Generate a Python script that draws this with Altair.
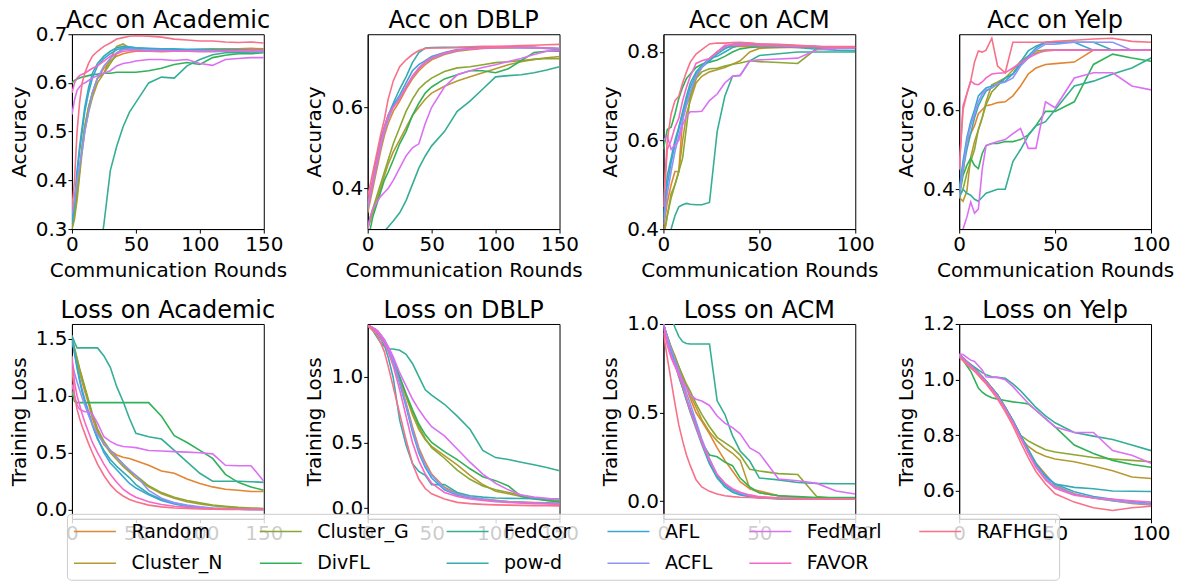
import math
import altair as alt
import pandas as pd

# ---------------- data ----------------
METHODS = ["Random", "Cluster_N", "Cluster_G", "DivFL", "FedCor", "pow-d",
           "AFL", "ACFL", "FedMarl", "FAVOR", "RAFHGL"]
PALETTE_INDEX = {"RAFHGL": 0, "Random": 1, "Cluster_N": 2, "Cluster_G": 3, "DivFL": 4,
                 "FedCor": 5, "pow-d": 6, "AFL": 7, "ACFL": 8, "FedMarl": 9, "FAVOR": 10}

X150 = [0, 2, 4, 6, 8, 10, 13, 16, 20, 25, 30, 35, 40, 45, 50, 60, 70, 80, 90, 100, 110, 120, 130, 140, 150]
X100 = [0, 2, 4, 6, 8, 10, 12, 14, 17, 20, 24, 28, 32, 36, 40, 45, 50, 60, 70, 80, 90, 100]

ACC_ACADEMIC = {
    "Random":    [0.31,0.33,0.38,0.42,0.47,0.51,0.55,0.58,0.61,0.63,0.645,0.655,0.66,0.663,0.665,0.665,0.666,0.667,0.668,0.668,0.669,0.67,0.67,0.671,0.67],
    "Cluster_N": [0.30,0.32,0.36,0.41,0.46,0.50,0.54,0.57,0.60,0.62,0.65,0.675,0.68,0.672,0.668,0.665,0.664,0.665,0.666,0.667,0.667,0.668,0.669,0.668,0.67],
    "Cluster_G": [0.30,0.33,0.37,0.42,0.47,0.51,0.55,0.58,0.61,0.62,0.64,0.66,0.672,0.67,0.668,0.666,0.666,0.667,0.668,0.669,0.67,0.669,0.668,0.667,0.665],
    "DivFL":     [0.60,0.605,0.608,0.61,0.612,0.613,0.615,0.617,0.618,0.62,0.62,0.622,0.622,0.622,0.622,0.625,0.63,0.638,0.642,0.638,0.652,0.657,0.66,0.66,0.662],
    "FedCor":    [0.15,0.15,0.15,0.16,0.17,0.18,0.19,0.2,0.22,0.31,0.42,0.47,0.51,0.54,0.56,0.60,0.612,0.61,0.635,0.648,0.658,0.662,0.662,0.663,0.663],
    "pow-d":     [0.32,0.36,0.42,0.47,0.51,0.55,0.59,0.62,0.64,0.655,0.665,0.672,0.675,0.674,0.672,0.67,0.669,0.668,0.668,0.667,0.667,0.666,0.666,0.665,0.665],
    "AFL":       [0.31,0.35,0.41,0.46,0.50,0.54,0.58,0.61,0.635,0.65,0.66,0.668,0.672,0.673,0.672,0.671,0.67,0.67,0.669,0.669,0.668,0.668,0.668,0.667,0.667],
    "ACFL":      [0.33,0.36,0.40,0.43,0.46,0.50,0.54,0.58,0.61,0.635,0.65,0.662,0.668,0.67,0.668,0.667,0.667,0.666,0.666,0.666,0.666,0.665,0.665,0.664,0.664],
    "FedMarl":   [0.535,0.565,0.585,0.592,0.598,0.60,0.605,0.61,0.615,0.62,0.625,0.635,0.64,0.642,0.645,0.648,0.648,0.646,0.648,0.64,0.636,0.648,0.65,0.652,0.652],
    "FAVOR":     [0.58,0.60,0.61,0.615,0.618,0.62,0.625,0.63,0.635,0.645,0.655,0.66,0.665,0.666,0.666,0.665,0.665,0.665,0.665,0.664,0.664,0.665,0.666,0.667,0.667],
    "RAFHGL":    [0.34,0.40,0.50,0.56,0.60,0.62,0.64,0.655,0.665,0.675,0.682,0.69,0.693,0.696,0.697,0.696,0.694,0.69,0.688,0.686,0.686,0.684,0.683,0.684,0.682],
}

ACC_DBLP = {
    "Random":    [0.34,0.37,0.40,0.43,0.46,0.49,0.53,0.56,0.59,0.615,0.645,0.67,0.69,0.705,0.717,0.73,0.738,0.742,0.745,0.746,0.746,0.747,0.747,0.746,0.744],
    "Cluster_N": [0.30,0.32,0.34,0.36,0.38,0.40,0.43,0.46,0.49,0.52,0.55,0.58,0.60,0.62,0.635,0.652,0.665,0.675,0.685,0.695,0.705,0.712,0.718,0.722,0.725],
    "Cluster_G": [0.30,0.33,0.35,0.37,0.39,0.41,0.44,0.47,0.51,0.55,0.59,0.62,0.645,0.66,0.672,0.688,0.697,0.70,0.705,0.71,0.712,0.715,0.718,0.72,0.72],
    "DivFL":     [0.28,0.30,0.33,0.35,0.37,0.39,0.42,0.44,0.47,0.51,0.54,0.58,0.61,0.635,0.65,0.67,0.68,0.69,0.69,0.685,0.695,0.715,0.735,0.738,0.738],
    "FedCor":    [0.20,0.22,0.24,0.26,0.27,0.28,0.295,0.305,0.32,0.34,0.37,0.41,0.45,0.48,0.505,0.54,0.59,0.615,0.645,0.675,0.678,0.68,0.685,0.692,0.70],
    "pow-d":     [0.36,0.39,0.42,0.46,0.49,0.52,0.55,0.58,0.61,0.645,0.675,0.71,0.735,0.746,0.747,0.748,0.748,0.748,0.748,0.749,0.749,0.748,0.747,0.745,0.742],
    "AFL":       [0.36,0.39,0.42,0.45,0.48,0.51,0.55,0.58,0.605,0.63,0.66,0.69,0.705,0.715,0.725,0.735,0.742,0.745,0.747,0.748,0.748,0.748,0.748,0.746,0.745],
    "ACFL":      [0.35,0.38,0.41,0.44,0.47,0.50,0.54,0.57,0.60,0.625,0.65,0.675,0.695,0.71,0.72,0.732,0.74,0.744,0.746,0.747,0.747,0.746,0.746,0.745,0.744],
    "FedMarl":   [0.30,0.33,0.35,0.36,0.37,0.38,0.39,0.40,0.42,0.45,0.48,0.50,0.51,0.56,0.60,0.65,0.68,0.69,0.698,0.705,0.713,0.72,0.73,0.738,0.74],
    "FAVOR":     [0.36,0.39,0.42,0.45,0.48,0.51,0.55,0.58,0.60,0.62,0.65,0.677,0.697,0.712,0.722,0.734,0.741,0.744,0.746,0.747,0.748,0.748,0.747,0.746,0.745],
    "RAFHGL":    [0.38,0.41,0.44,0.47,0.50,0.53,0.57,0.62,0.665,0.70,0.717,0.73,0.74,0.745,0.746,0.746,0.747,0.749,0.75,0.75,0.751,0.752,0.753,0.754,0.755],
}

ACC_ACM = {
    "Random":    [0.40,0.46,0.50,0.53,0.53,0.65,0.68,0.70,0.74,0.765,0.785,0.80,0.81,0.812,0.813,0.812,0.811,0.81,0.811,0.81,0.81,0.81],
    "Cluster_N": [0.38,0.43,0.48,0.50,0.53,0.60,0.66,0.69,0.73,0.745,0.755,0.76,0.765,0.772,0.78,0.80,0.808,0.81,0.81,0.81,0.81,0.81],
    "Cluster_G": [0.38,0.43,0.47,0.50,0.53,0.56,0.63,0.70,0.74,0.755,0.762,0.763,0.768,0.772,0.775,0.78,0.778,0.776,0.774,0.808,0.81,0.81],
    "DivFL":     [0.58,0.625,0.63,0.66,0.695,0.72,0.74,0.75,0.765,0.772,0.777,0.782,0.79,0.80,0.807,0.81,0.812,0.812,0.811,0.81,0.81,0.81],
    "FedCor":    [0.35,0.38,0.40,0.43,0.45,0.455,0.458,0.456,0.455,0.455,0.46,0.62,0.70,0.745,0.747,0.78,0.792,0.796,0.80,0.80,0.80,0.80],
    "pow-d":     [0.43,0.52,0.56,0.60,0.63,0.665,0.70,0.73,0.755,0.77,0.785,0.79,0.80,0.81,0.815,0.815,0.813,0.812,0.81,0.806,0.804,0.803],
    "AFL":       [0.42,0.50,0.55,0.59,0.625,0.66,0.69,0.72,0.75,0.765,0.78,0.795,0.807,0.815,0.818,0.818,0.817,0.815,0.814,0.812,0.81,0.81],
    "ACFL":      [0.41,0.48,0.53,0.575,0.61,0.645,0.68,0.71,0.745,0.765,0.785,0.80,0.812,0.818,0.82,0.82,0.818,0.816,0.814,0.812,0.81,0.808],
    "FedMarl":   [0.60,0.61,0.58,0.59,0.60,0.635,0.655,0.665,0.665,0.666,0.69,0.705,0.73,0.745,0.747,0.78,0.782,0.784,0.786,0.805,0.808,0.81],
    "FAVOR":     [0.45,0.58,0.60,0.63,0.65,0.69,0.72,0.745,0.774,0.78,0.785,0.80,0.815,0.816,0.816,0.815,0.814,0.813,0.812,0.812,0.811,0.81],
    "RAFHGL":    [0.45,0.60,0.66,0.69,0.70,0.73,0.755,0.777,0.795,0.805,0.818,0.82,0.82,0.821,0.822,0.82,0.818,0.817,0.815,0.813,0.812,0.812],
}

ACC_YELP = {
    "Random":    [0.40,0.44,0.52,0.54,0.56,0.59,0.60,0.61,0.613,0.618,0.62,0.635,0.66,0.69,0.705,0.714,0.716,0.72,0.75,0.75,0.75,0.75],
    "Cluster_N": [0.38,0.37,0.395,0.48,0.52,0.55,0.58,0.62,0.663,0.67,0.68,0.70,0.722,0.735,0.743,0.748,0.75,0.75,0.75,0.75,0.75,0.75],
    "Cluster_G": [0.38,0.40,0.44,0.47,0.50,0.55,0.58,0.613,0.645,0.66,0.68,0.69,0.714,0.73,0.748,0.75,0.75,0.75,0.75,0.75,0.75,0.75],
    "DivFL":     [0.38,0.435,0.46,0.478,0.46,0.452,0.49,0.51,0.515,0.515,0.52,0.52,0.525,0.537,0.56,0.596,0.596,0.62,0.714,0.74,0.73,0.722],
    "FedCor":    [0.38,0.40,0.39,0.385,0.375,0.37,0.38,0.39,0.395,0.40,0.40,0.47,0.50,0.535,0.56,0.57,0.60,0.66,0.672,0.69,0.705,0.73],
    "pow-d":     [0.40,0.45,0.50,0.54,0.58,0.61,0.63,0.647,0.655,0.665,0.68,0.69,0.72,0.748,0.76,0.77,0.77,0.77,0.77,0.75,0.75,0.75],
    "AFL":       [0.40,0.47,0.53,0.57,0.60,0.635,0.645,0.655,0.66,0.665,0.672,0.69,0.715,0.735,0.755,0.77,0.77,0.77,0.75,0.75,0.75,0.75],
    "ACFL":      [0.38,0.45,0.52,0.56,0.59,0.62,0.64,0.65,0.655,0.665,0.67,0.68,0.71,0.73,0.75,0.765,0.765,0.77,0.77,0.77,0.75,0.75],
    "FedMarl":   [0.25,0.30,0.33,0.368,0.34,0.35,0.45,0.51,0.515,0.52,0.525,0.54,0.553,0.503,0.503,0.62,0.605,0.68,0.693,0.693,0.66,0.65],
    "FAVOR":     [0.45,0.61,0.64,0.672,0.665,0.663,0.67,0.68,0.69,0.692,0.693,0.705,0.718,0.73,0.74,0.75,0.75,0.75,0.75,0.75,0.75,0.75],
    "RAFHGL":    [0.45,0.60,0.64,0.672,0.72,0.748,0.745,0.75,0.78,0.71,0.693,0.77,0.77,0.77,0.77,0.77,0.772,0.775,0.778,0.78,0.772,0.77],
}

LOSS_ACADEMIC = {
    "Random":    [1.50,1.40,1.30,1.20,1.12,1.04,0.93,0.80,0.68,0.57,0.52,0.48,0.46,0.45,0.43,0.39,0.34,0.32,0.27,0.23,0.20,0.18,0.17,0.16,0.16],
    "Cluster_N": [1.50,1.41,1.32,1.23,1.15,1.07,0.95,0.83,0.70,0.58,0.50,0.44,0.38,0.33,0.28,0.20,0.14,0.10,0.07,0.05,0.035,0.025,0.015,0.01,0.008],
    "Cluster_G": [1.50,1.42,1.33,1.24,1.16,1.08,0.96,0.84,0.71,0.60,0.52,0.46,0.40,0.34,0.30,0.21,0.15,0.11,0.08,0.06,0.04,0.03,0.02,0.015,0.01],
    "DivFL":     [1.04,0.95,0.94,0.94,0.94,0.94,0.94,0.94,0.94,0.94,0.94,0.94,0.94,0.94,0.94,0.94,0.82,0.65,0.59,0.52,0.45,0.31,0.24,0.20,0.17],
    "FedCor":    [1.53,1.47,1.42,1.42,1.42,1.42,1.42,1.42,1.42,1.35,1.25,1.08,0.95,0.80,0.67,0.64,0.62,0.52,0.42,0.32,0.25,0.25,0.25,0.245,0.24],
    "pow-d":     [1.50,1.37,1.24,1.13,1.03,0.95,0.84,0.74,0.62,0.52,0.44,0.38,0.33,0.28,0.22,0.14,0.09,0.06,0.035,0.02,0.012,0.008,0.005,0.003,0.002],
    "AFL":       [1.50,1.38,1.26,1.15,1.05,0.97,0.86,0.75,0.63,0.50,0.41,0.35,0.29,0.23,0.19,0.13,0.08,0.05,0.03,0.02,0.01,0.006,0.004,0.003,0.002],
    "ACFL":      [1.30,1.20,1.12,1.05,0.98,0.92,0.83,0.75,0.66,0.58,0.52,0.46,0.40,0.35,0.30,0.17,0.10,0.06,0.04,0.025,0.015,0.01,0.007,0.005,0.004],
    "FedMarl":   [1.10,1.00,0.92,0.88,0.87,0.86,0.86,0.84,0.76,0.64,0.60,0.57,0.555,0.55,0.545,0.52,0.515,0.51,0.505,0.50,0.49,0.39,0.386,0.386,0.25],
    "FAVOR":     [1.35,1.12,1.00,0.92,0.84,0.77,0.68,0.59,0.50,0.40,0.31,0.24,0.18,0.14,0.11,0.07,0.045,0.03,0.02,0.012,0.008,0.005,0.004,0.003,0.002],
    "RAFHGL":    [1.25,1.00,0.88,0.80,0.73,0.67,0.58,0.50,0.40,0.30,0.22,0.16,0.12,0.09,0.07,0.04,0.025,0.015,0.01,0.006,0.004,0.003,0.002,0.002,0.001],
}

LOSS_DBLP = {
    "Random":    [1.386,1.38,1.37,1.36,1.345,1.32,1.28,1.22,1.12,0.97,0.80,0.62,0.46,0.35,0.26,0.16,0.11,0.085,0.07,0.06,0.052,0.047,0.044,0.042,0.04],
    "Cluster_N": [1.386,1.38,1.37,1.355,1.34,1.31,1.27,1.22,1.12,0.98,0.85,0.71,0.60,0.52,0.47,0.40,0.33,0.25,0.18,0.13,0.11,0.09,0.08,0.07,0.06],
    "Cluster_G": [1.386,1.38,1.37,1.355,1.34,1.31,1.27,1.22,1.12,0.99,0.86,0.73,0.62,0.53,0.46,0.38,0.29,0.22,0.17,0.14,0.12,0.10,0.08,0.06,0.05],
    "DivFL":     [1.386,1.38,1.37,1.355,1.34,1.31,1.27,1.22,1.13,1.00,0.87,0.75,0.64,0.56,0.50,0.43,0.37,0.30,0.24,0.21,0.17,0.09,0.07,0.06,0.05],
    "FedCor":    [1.386,1.37,1.35,1.32,1.29,1.26,1.23,1.21,1.21,1.20,1.17,1.10,1.00,0.90,0.86,0.79,0.70,0.60,0.44,0.385,0.37,0.35,0.33,0.31,0.285],
    "pow-d":     [1.386,1.375,1.36,1.345,1.32,1.29,1.24,1.15,0.99,0.67,0.48,0.34,0.28,0.25,0.18,0.18,0.12,0.095,0.085,0.078,0.075,0.074,0.073,0.072,0.07],
    "AFL":       [1.386,1.38,1.37,1.36,1.34,1.31,1.27,1.21,1.11,0.95,0.77,0.58,0.42,0.31,0.23,0.14,0.10,0.08,0.065,0.055,0.048,0.043,0.04,0.037,0.035],
    "ACFL":      [1.386,1.38,1.37,1.36,1.345,1.32,1.28,1.22,1.12,0.96,0.79,0.60,0.44,0.33,0.25,0.15,0.105,0.085,0.07,0.058,0.05,0.045,0.042,0.04,0.038],
    "FedMarl":   [1.386,1.38,1.37,1.36,1.345,1.32,1.28,1.23,1.15,1.03,0.93,0.83,0.75,0.68,0.62,0.55,0.45,0.35,0.26,0.19,0.14,0.10,0.085,0.075,0.065],
    "FAVOR":     [1.386,1.38,1.37,1.35,1.33,1.30,1.25,1.19,1.08,0.90,0.70,0.50,0.36,0.26,0.19,0.12,0.09,0.07,0.06,0.05,0.045,0.04,0.035,0.032,0.03],
    "RAFHGL":    [1.386,1.37,1.35,1.33,1.30,1.26,1.19,1.08,0.92,0.72,0.52,0.34,0.22,0.15,0.11,0.07,0.045,0.035,0.03,0.026,0.024,0.022,0.02,0.019,0.018],
}

LOSS_ACM = {
    "Random":    [1.00,0.93,0.87,0.82,0.76,0.70,0.64,0.58,0.50,0.45,0.38,0.30,0.23,0.17,0.11,0.07,0.057,0.03,0.02,0.015,0.012,0.01],
    "Cluster_N": [1.00,0.93,0.86,0.80,0.75,0.70,0.65,0.60,0.53,0.46,0.39,0.34,0.30,0.27,0.23,0.07,0.047,0.03,0.02,0.015,0.012,0.01],
    "Cluster_G": [1.00,0.93,0.87,0.81,0.76,0.71,0.66,0.62,0.55,0.49,0.42,0.36,0.33,0.30,0.26,0.18,0.17,0.155,0.15,0.025,0.015,0.01],
    "DivFL":     [1.00,0.92,0.85,0.78,0.70,0.64,0.57,0.51,0.44,0.33,0.26,0.25,0.22,0.20,0.13,0.08,0.047,0.03,0.025,0.02,0.02,0.02],
    "FedCor":    [1.15,1.10,1.04,0.98,0.93,0.90,0.89,0.887,0.887,0.887,0.887,0.566,0.49,0.37,0.283,0.226,0.13,0.12,0.105,0.10,0.098,0.098],
    "pow-d":     [1.00,0.92,0.84,0.78,0.71,0.64,0.57,0.50,0.41,0.32,0.21,0.13,0.08,0.05,0.035,0.025,0.018,0.012,0.01,0.01,0.01,0.01],
    "AFL":       [1.00,0.92,0.85,0.79,0.73,0.66,0.58,0.52,0.43,0.33,0.22,0.14,0.09,0.06,0.04,0.028,0.02,0.015,0.012,0.01,0.01,0.01],
    "ACFL":      [1.00,0.93,0.86,0.80,0.74,0.68,0.61,0.55,0.45,0.35,0.24,0.15,0.10,0.065,0.045,0.03,0.022,0.016,0.013,0.011,0.01,0.01],
    "FedMarl":   [1.00,0.90,0.82,0.77,0.72,0.68,0.64,0.60,0.575,0.565,0.54,0.48,0.44,0.415,0.38,0.30,0.27,0.125,0.115,0.10,0.057,0.04],
    "FAVOR":     [0.98,0.88,0.81,0.76,0.71,0.65,0.58,0.51,0.42,0.33,0.23,0.15,0.10,0.07,0.05,0.035,0.025,0.018,0.014,0.012,0.01,0.01],
    "RAFHGL":    [0.95,0.81,0.68,0.55,0.43,0.34,0.26,0.20,0.12,0.08,0.055,0.04,0.03,0.025,0.022,0.02,0.018,0.015,0.013,0.012,0.011,0.01],
}

LOSS_YELP = {
    "Random":    [1.09,1.078,1.065,1.052,1.04,1.025,1.01,0.995,0.97,0.945,0.90,0.85,0.80,0.745,0.70,0.66,0.62,0.59,0.575,0.565,0.555,0.55],
    "Cluster_N": [1.09,1.078,1.065,1.052,1.04,1.025,1.01,0.995,0.97,0.945,0.90,0.853,0.79,0.76,0.74,0.725,0.715,0.705,0.69,0.673,0.65,0.645],
    "Cluster_G": [1.09,1.078,1.065,1.052,1.04,1.025,1.01,0.995,0.97,0.945,0.90,0.853,0.80,0.78,0.765,0.748,0.74,0.73,0.72,0.715,0.71,0.705],
    "DivFL":     [1.09,1.07,1.05,1.03,1.00,0.97,0.955,0.945,0.935,0.93,0.925,0.92,0.917,0.913,0.89,0.86,0.83,0.765,0.735,0.71,0.695,0.685],
    "FedCor":    [1.09,1.075,1.065,1.055,1.045,1.035,1.025,1.018,1.01,1.008,1.005,0.985,0.96,0.93,0.90,0.87,0.845,0.81,0.797,0.785,0.765,0.745],
    "pow-d":     [1.09,1.078,1.065,1.052,1.04,1.025,1.01,0.995,0.97,0.945,0.90,0.853,0.80,0.75,0.70,0.65,0.625,0.613,0.608,0.60,0.599,0.598],
    "AFL":       [1.09,1.078,1.065,1.052,1.04,1.025,1.01,0.995,0.97,0.945,0.90,0.853,0.80,0.745,0.695,0.655,0.625,0.597,0.58,0.57,0.562,0.555],
    "ACFL":      [1.085,1.073,1.06,1.048,1.036,1.022,1.007,0.99,0.965,0.94,0.895,0.847,0.792,0.738,0.688,0.645,0.615,0.588,0.575,0.565,0.558,0.552],
    "FedMarl":   [1.092,1.09,1.08,1.07,1.065,1.05,1.035,1.01,1.008,1.008,1.00,0.975,0.945,0.915,0.89,0.86,0.83,0.81,0.81,0.745,0.728,0.70],
    "FAVOR":     [1.09,1.077,1.063,1.05,1.037,1.023,1.008,0.992,0.967,0.94,0.895,0.846,0.792,0.737,0.685,0.64,0.61,0.585,0.575,0.57,0.565,0.56],
    "RAFHGL":    [1.08,1.068,1.055,1.042,1.03,1.015,1.00,0.985,0.958,0.93,0.885,0.835,0.775,0.72,0.67,0.625,0.59,0.56,0.54,0.53,0.54,0.545],
}

# ---------------- husl palette (seaborn husl_palette(11)) ----------------
_M = [[3.2406, -1.5372, -0.4986], [-0.9689, 1.8758, 0.0415], [0.0557, -0.2040, 1.0570]]
_REFU, _REFV = 0.19784, 0.46834


def _max_chroma(L, H):
    hrad = math.radians(H)
    sinH, cosH = math.sin(hrad), math.cos(hrad)
    sub1 = (L + 16) ** 3 / 1560896.0
    sub2 = sub1 if sub1 > 0.008856 else L / 903.3
    result = float("inf")
    for m1, m2, m3 in _M:
        top = (0.99915 * m1 + 1.05122 * m2 + 1.14460 * m3) * sub2
        rbottom = 0.86330 * m3 - 0.17266 * m2
        lbottom = 0.12949 * m3 - 0.38848 * m1
        bottom = (rbottom * sinH + lbottom * cosH) * sub2
        for t in (0.0, 1.0):
            C = L * (top - 1.05122 * t) / (bottom + 0.17266 * sinH * t)
            if 0.0 < C < result:
                result = C
    return result


def _husl_to_hex(H, S, L):
    C = _max_chroma(L, H) / 100.0 * S
    hr = math.radians(H)
    U, V = math.cos(hr) * C, math.sin(hr) * C
    Y = ((L + 16) / 116) ** 3 if L > 8.0 else L / 903.3
    vu = U / (13.0 * L) + _REFU
    vv = V / (13.0 * L) + _REFV
    X = 0.0 - (9.0 * Y * vu) / ((vu - 4.0) * vv - vu * vv)
    Z = (9.0 * Y - 15.0 * vv * Y - vv * X) / (3.0 * vv)
    out = []
    for row in _M:
        c = row[0] * X + row[1] * Y + row[2] * Z
        c = 12.92 * c if c <= 0.0031308 else 1.055 * c ** (1 / 2.4) - 0.055
        c = min(1.0, max(0.0, c))
        out.append(int(round(c * 255)))
    return "#%02x%02x%02x" % tuple(out)


N = 11
PALETTE = [_husl_to_hex(((i / N + 0.01) % 1) * 359, 0.9 * 99, 0.65 * 99) for i in range(N)]
COLOR_RANGE = [PALETTE[PALETTE_INDEX[m]] for m in METHODS]

FONT = "DejaVu Sans"

legend = alt.Legend(
    orient="none", legendX=-5, legendY=480, columns=6, title=None,
    symbolType="M-2,0L2,0", symbolSize=441, symbolStrokeWidth=1.6, symbolOffset=10.5,
    symbolFillColor="transparent",
    labelFontSize=19, labelFont=FONT, labelColor="black", labelOffset=25, labelLimit=300,
    columnPadding=33, rowPadding=10, padding=6,
    fillColor="rgba(255,255,255,0.8)", strokeColor="#cccccc", cornerRadius=4, zindex=1,
)


def panel(title, ytitle, xs, data, xmax, ydom, yticks, xtitle, title_dy=0):
    rows = []
    for name in METHODS:
        for x, y in zip(xs, data[name]):
            rows.append({"round": x, "value": y, "method": name})
    df = pd.DataFrame(rows)
    xticks = [0, 50, 100, 150] if xmax == 150 else [0, 50, 100]
    xaxis = alt.Axis(values=xticks, format="d", labelOverlap=False, labelFlush=False,
                     title="Communication Rounds" if xtitle else None)
    return alt.Chart(df, title=alt.Title(title, dy=title_dy)).mark_line(clip=True, strokeWidth=1.6).encode(
        x=alt.X("round:Q", scale=alt.Scale(domain=[0, xmax], nice=False, zero=False), axis=xaxis),
        y=alt.Y("value:Q", scale=alt.Scale(domain=ydom, nice=False, zero=False),
                axis=alt.Axis(values=yticks, format=".1f", title=ytitle, labelOverlap=False)),
        color=alt.Color("method:N", sort=METHODS,
                        scale=alt.Scale(domain=METHODS, range=COLOR_RANGE), legend=legend),
    ).properties(width=192, height=195)


panels = [
    panel("Acc on Academic", "Accuracy", X150, ACC_ACADEMIC, 150, [0.3, 0.7], [0.3, 0.4, 0.5, 0.6, 0.7], True, 10),
    panel("Acc on DBLP", "Accuracy", X150, ACC_DBLP, 150, [0.3, 0.78], [0.4, 0.6], True),
    panel("Acc on ACM", "Accuracy", X100, ACC_ACM, 100, [0.4, 0.84], [0.4, 0.6, 0.8], True),
    panel("Acc on Yelp", "Accuracy", X100, ACC_YELP, 100, [0.3, 0.79], [0.4, 0.6], True),
    panel("Loss on Academic", "Training Loss", X150, LOSS_ACADEMIC, 150, [-0.08, 1.63], [0.0, 0.5, 1.0, 1.5], False),
    panel("Loss on DBLP", "Training Loss", X150, LOSS_DBLP, 150, [-0.08, 1.40], [0.0, 0.5, 1.0], False),
    panel("Loss on ACM", "Training Loss", X100, LOSS_ACM, 100, [-0.1, 1.0], [0.0, 0.5, 1.0], False, 10),
    panel("Loss on Yelp", "Training Loss", X100, LOSS_YELP, 100, [0.5, 1.2], [0.6, 0.8, 1.0, 1.2], False, 10),
]

chart = alt.ConcatChart(
    concat=panels, columns=4, spacing={"row": 95, "column": 104}, bounds="flush",
).configure(
    padding=0,
).configure_view(
    stroke="black", strokeWidth=1,
).configure_axis(
    labelFont=FONT, labelFontSize=20, labelColor="black",
    titleFont=FONT, titleFontSize=20, titleFontWeight="normal", titleColor="black",
    domainColor="black", tickColor="black", tickSize=4, labelPadding=1, titlePadding=6,
    grid=False,
).configure_title(
    font=FONT, fontSize=24, fontWeight="normal", color="black", offset=1, anchor="middle",
)

chart.save("out.html", embed_options={"renderer": "svg", "actions": False})
